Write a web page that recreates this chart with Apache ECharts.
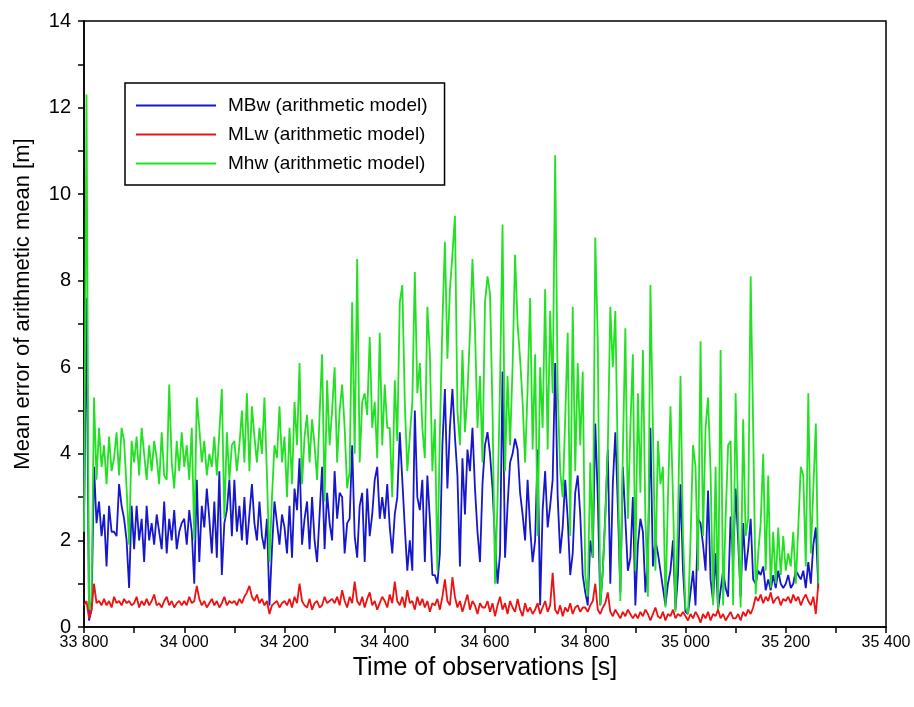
<!DOCTYPE html>
<html>
<head>
<meta charset="utf-8">
<script src="https://cdn.jsdelivr.net/npm/echarts@6/dist/echarts.min.js"></script>
<style>
html, body { margin: 0; padding: 0; background: #fff; }
#chart { width: 914px; height: 707px; }
</style>
</head>
<body>
<div id="chart"></div>
<script>
// observations every 5 s starting at 33 800 s
var startTime = 33800;
var step = 5;

var seriesNames = ['MBw (arithmetic model)', 'MLw (arithmetic model)', 'Mhw (arithmetic model)'];

var mbw = [
    2.2, 7.6, 0.15, 0.4, 3.7, 2.4, 2.9, 2.1, 2.6, 1.4, 2.8, 2.2, 2.2, 2.1, 3.3, 2.8, 2.5, 2.0, 0.9, 2.8,
    1.8, 2.8, 2.0, 2.5, 1.5, 2.8, 2.0, 2.4, 1.9, 2.6, 2.2, 1.8, 2.9, 1.7, 2.5, 2.0, 2.7, 1.8, 2.2, 2.4,
    2.5, 1.9, 2.7, 2.2, 1.0, 3.4, 1.5, 2.8, 2.3, 3.2, 2.5, 1.7, 2.9, 1.6, 3.6, 1.2, 2.4, 2.7, 3.4, 2.1,
    3.4, 2.2, 2.8, 2.0, 3.0, 1.9, 2.6, 3.3, 2.4, 2.0, 2.9, 2.1, 1.8, 2.5, 0.5, 1.8, 2.9, 2.4, 1.9, 2.6,
    2.3, 1.7, 2.8, 1.6, 3.2, 2.7, 3.9, 1.9, 2.5, 2.9, 1.8, 3.0, 2.0, 1.5, 2.6, 3.7, 1.8, 3.1, 2.4, 2.0,
    3.6, 2.5, 3.1, 3.0, 1.7, 2.4, 2.5, 4.2, 2.1, 1.6, 2.8, 3.1, 1.5, 3.2, 2.1, 2.6, 3.4, 3.7, 2.5, 3.0,
    2.5, 3.3, 2.3, 1.7, 2.6, 3.0, 4.5, 3.4, 2.3, 1.3, 2.0, 1.3, 5.0, 3.0, 2.7, 3.4, 1.5, 3.5, 2.5, 1.2,
    1.2, 1.0, 1.7, 4.2, 5.5, 3.2, 4.6, 5.5, 4.4, 3.5, 1.4, 3.9, 2.6, 4.1, 3.6, 4.6, 3.2, 2.2, 1.5, 3.3,
    4.2, 4.5, 4.0, 3.2, 2.0, 1.0, 1.7, 5.9, 1.6, 2.8, 3.8, 4.0, 4.35, 4.1, 3.1, 2.6, 2.0, 3.4, 2.3, 1.5,
    2.0, 4.1, 0.5, 2.7, 3.6, 2.3, 2.8, 3.4, 6.1, 3.0, 1.7, 2.3, 3.4, 2.5, 1.2, 1.7, 3.1, 3.5, 2.6, 1.2,
    0.8, 0.5, 2.0, 1.6, 4.7, 3.0, 0.5, 1.3, 2.6, 4.1, 1.0, 3.3, 4.5, 2.8, 0.8, 3.7, 2.5, 1.3, 1.6, 3.0,
    0.5, 1.9, 2.5, 2.2, 0.8, 1.6, 4.6, 1.4, 2.0, 1.7, 1.3, 0.9, 0.5, 1.0, 1.3, 2.0, 0.4, 1.2, 3.3, 1.3,
    0.35, 0.3, 0.8, 1.3, 0.5, 2.5, 2.4, 1.9, 1.3, 3.15, 1.1, 0.6, 1.7, 0.4, 0.85, 1.3, 0.9, 0.7, 2.55, 1.5,
    3.2, 2.0, 0.7, 2.4, 1.3, 1.8, 2.5, 1.1, 1.0, 1.3, 1.2, 1.4, 0.85, 1.1, 0.85, 1.2, 0.9, 1.3, 1.0, 0.9,
    1.0, 1.2, 0.9, 1.0, 1.3, 1.2, 1.1, 1.3, 0.9, 1.5, 1.0, 1.9, 2.3, 0.9
];

var mlw = [
    0.5, 0.6, 0.2, 0.4, 1.0, 0.55, 0.6, 0.5, 0.65, 0.5, 0.6, 0.45, 0.7, 0.55, 0.6, 0.5, 0.65, 0.55, 0.6, 0.5,
    0.55, 0.7, 0.45, 0.6, 0.5, 0.65, 0.5, 0.6, 0.75, 0.5, 0.55, 0.45, 0.6, 0.7, 0.5, 0.6, 0.45, 0.55, 0.6, 0.5,
    0.6, 0.5, 0.7, 0.55, 0.6, 0.95, 0.65, 0.5, 0.6, 0.45, 0.55, 0.65, 0.5, 0.6, 0.45, 0.55, 0.7, 0.5, 0.6, 0.55,
    0.6, 0.5, 0.65, 0.55, 0.7, 0.8, 0.95, 0.7, 0.6, 0.75, 0.55, 0.65, 0.5, 0.6, 0.3, 0.5, 0.55, 0.6, 0.45, 0.55,
    0.6, 0.5, 0.65, 0.45, 0.7, 0.55, 1.0, 0.6, 0.5, 0.45, 0.65, 0.4, 0.55, 0.6, 0.45, 0.5, 0.7, 0.55, 0.6, 0.65,
    0.55, 0.7, 0.5, 0.85, 0.6, 0.45, 0.7, 0.55, 1.05, 0.6, 0.5, 0.7, 0.45, 0.65, 0.8, 0.5, 0.6, 0.4, 0.55, 0.7,
    0.6, 0.45, 0.75, 0.55, 1.05, 0.6, 0.5, 0.7, 0.45, 0.85, 0.55, 0.6, 0.4, 0.7, 0.5, 0.65, 0.45, 0.6, 0.35, 0.55,
    0.5, 0.65, 0.4, 0.7, 1.1, 0.6, 0.5, 1.15, 0.7, 0.45, 0.6, 0.35, 0.55, 0.75, 0.4, 0.6, 0.5, 0.3, 0.55, 0.45,
    0.45, 0.6, 0.35, 0.55, 0.25, 0.5, 0.7, 0.4, 0.55, 0.3, 0.6, 0.45, 0.35, 0.65, 0.4, 0.25, 0.55, 0.35, 0.45, 0.3,
    0.4, 0.55, 0.3, 0.45, 0.6, 0.35, 0.5, 1.25, 0.4, 0.3, 0.5, 0.25, 0.45, 0.35, 0.55, 0.3, 0.45, 0.5, 0.35, 0.45,
    0.45, 0.35, 0.5, 0.6, 1.0, 0.4, 0.3, 0.45, 0.55, 0.8, 0.35, 0.25, 0.4, 0.3, 0.2, 0.35, 0.25, 0.4, 0.3, 0.2,
    0.3, 0.2, 0.35, 0.25, 0.4, 0.3, 0.15, 0.3, 0.45, 0.25, 0.2, 0.35, 0.15, 0.3, 0.25, 0.4, 0.2, 0.3, 0.25, 0.35,
    0.25, 0.15, 0.3, 0.2, 0.35, 0.25, 0.1, 0.3, 0.2, 0.35, 0.15, 0.3, 0.25, 0.4, 0.2, 0.3, 0.15, 0.25, 0.35, 0.2,
    0.2, 0.3, 0.15, 0.35, 0.25, 0.4, 0.3, 0.45, 0.7, 0.6, 0.75, 0.55, 0.7, 0.6, 0.8, 0.55, 0.65, 0.7, 0.5, 0.65,
    0.6, 0.7, 0.55, 0.75, 0.6, 0.7, 0.5, 0.65, 0.75, 0.6, 0.5, 0.7, 0.3, 1.0
];

var mhw = [
    2.2, 12.3, 0.4, 0.6, 5.3, 3.4, 4.6, 3.7, 4.2, 3.3, 4.4, 3.6, 3.9, 4.5, 3.5, 4.6, 4.3, 3.2, 1.9, 4.3,
    3.8, 4.4, 3.5, 4.6, 4.0, 3.4, 4.2, 3.6, 4.3, 3.9, 3.3, 4.5, 3.5, 3.4, 5.6, 3.8, 3.2, 4.3, 3.6, 4.5,
    3.7, 4.2, 3.4, 4.6, 2.0, 5.3, 4.6, 3.8, 4.3, 3.5, 4.0, 3.7, 4.4, 3.5, 4.5, 5.5, 2.5, 4.5, 3.4, 4.2,
    4.3, 3.6, 4.2, 5.0, 3.8, 5.4, 3.6, 5.1, 4.4, 3.8, 4.6, 4.0, 5.3, 3.5, 1.5, 3.0, 4.2, 3.9, 5.1, 3.8,
    4.4, 3.0, 4.6, 3.3, 5.2, 4.2, 6.1, 3.3, 4.4, 4.9, 3.8, 4.8, 4.2, 3.4, 4.9, 6.3, 2.9, 5.7, 4.2, 5.0,
    6.0, 3.8, 5.0, 5.6, 4.6, 3.2, 3.6, 7.5, 4.0, 8.5, 3.8, 5.2, 5.4, 4.9, 6.7, 4.6, 5.2, 3.9, 6.8, 4.2,
    5.6, 4.6, 4.6, 3.0, 5.7, 4.3, 7.5, 7.9, 5.2, 3.6, 4.4, 5.2, 8.2, 5.4, 6.1, 4.6, 3.9, 7.4, 6.3, 3.6,
    4.8, 1.3, 4.5, 7.0, 8.9, 6.2, 7.8, 8.6, 9.5, 5.0, 4.2, 6.4, 4.5, 5.4, 6.8, 8.5, 6.9, 4.6, 5.8, 3.8,
    7.5, 8.1, 7.7, 5.0, 1.0, 2.9, 5.6, 9.3, 3.6, 5.8, 4.2, 6.0, 8.6, 7.0, 6.2, 5.2, 3.8, 5.5, 7.6, 4.1,
    6.3, 2.1, 6.0, 4.6, 7.8, 4.1, 7.3, 5.4, 10.9, 5.5, 3.6, 3.0, 4.8, 6.8, 2.1, 7.4, 3.6, 6.1, 4.2, 5.9,
    1.2, 0.7, 3.8, 1.6, 9.0, 6.6, 0.5, 1.3, 2.5, 4.1, 7.4, 6.0, 7.3, 3.8, 0.6, 4.0, 6.9, 2.5, 4.6, 6.3,
    1.3, 5.4, 3.1, 6.4, 2.5, 0.7, 7.9, 4.6, 1.3, 4.3, 3.3, 3.7, 0.45, 3.0, 5.1, 3.0, 0.35, 2.5, 5.8, 2.1,
    0.45, 0.3, 2.0, 4.2, 3.7, 1.3, 6.6, 2.1, 4.6, 5.3, 3.6, 0.5, 3.7, 0.35, 6.4, 0.5, 2.5, 4.2, 4.3, 0.5,
    5.4, 2.5, 0.45, 4.8, 2.1, 2.5, 8.1, 4.6, 0.75, 1.7, 2.4, 4.0, 1.3, 3.5, 0.9, 2.2, 1.0, 2.3, 1.2, 2.1,
    1.3, 1.7, 1.4, 2.2, 1.0, 2.3, 3.7, 3.5, 1.4, 5.4, 1.7, 3.2, 4.7, 1.0
];

var xTicks = { min: 33800, max: 35400, interval: 200 };
var yTicks = { min: 0, max: 14, interval: 2 };

function pairs(values) {
    var out = [];
    for (var i = 0; i < values.length; i++) {
        out.push([startTime + i * step, values[i]]);
    }
    return out;
}

function spaced(v) {
    var s = String(v);
    return s.length > 3 ? s.slice(0, -3) + ' ' + s.slice(-3) : s;
}

var font = 'Liberation Sans, Arial, sans-serif';

var chart = echarts.init(document.getElementById('chart'));
chart.setOption({
    animation: false,
    backgroundColor: '#fff',
    grid: {
        left: 84,
        right: 28,
        top: 21,
        bottom: 80,
        outerBoundsMode: 'none',
        show: true,
        borderColor: '#000',
        borderWidth: 1.5
    },
    legend: {
        orient: 'vertical',
        left: 125,
        top: 83,
        padding: [13, 17, 12, 11],
        itemGap: 10,
        itemWidth: 80,
        itemHeight: 2,
        icon: 'rect',
        borderColor: '#000',
        borderWidth: 1.5,
        backgroundColor: '#fff',
        textStyle: { fontFamily: font, fontSize: 19, color: '#000', lineHeight: 18, padding: [0, 0, 0, 7] },
        data: seriesNames
    },
    xAxis: {
        type: 'value',
        min: xTicks.min,
        max: xTicks.max,
        interval: xTicks.interval,
        name: 'Time of observations [s]',
        nameLocation: 'middle',
        nameGap: 28,
        nameTextStyle: { fontFamily: font, fontSize: 25, color: '#000' },
        axisLine: { lineStyle: { color: '#000', width: 1.5 } },
        axisTick: { length: 6, lineStyle: { color: '#000', width: 1.5 } },
        minorTick: { show: true, splitNumber: 2, length: 6, lineStyle: { color: '#000', width: 1.5 } },
        splitLine: { show: false },
        axisLabel: { fontFamily: font, fontSize: 16, color: '#000', margin: 8, formatter: spaced }
    },
    yAxis: {
        type: 'value',
        min: yTicks.min,
        max: yTicks.max,
        interval: yTicks.interval,
        name: 'Mean error of arithmetic mean [m]',
        nameLocation: 'middle',
        nameGap: 50,
        nameTextStyle: { fontFamily: font, fontSize: 22, color: '#000', padding: [0, 0, 0, 40] },
        axisLine: { lineStyle: { color: '#000', width: 1.5 } },
        axisTick: { length: 6, lineStyle: { color: '#000', width: 1.5 } },
        minorTick: { show: true, splitNumber: 2, length: 6, lineStyle: { color: '#000', width: 1.5 } },
        splitLine: { show: false },
        axisLabel: { fontFamily: font, fontSize: 20, color: '#000', margin: 13 }
    },
    series: [
        {
            name: seriesNames[0],
            type: 'line',
            z: 2,
            showSymbol: false,
            data: pairs(mbw),
            lineStyle: { color: '#1616cc', width: 1.8 },
            itemStyle: { color: '#1616cc' }
        },
        {
            name: seriesNames[1],
            type: 'line',
            z: 4,
            showSymbol: false,
            data: pairs(mlw),
            lineStyle: { color: '#ee1111', width: 1.8 },
            itemStyle: { color: '#ee1111' }
        },
        {
            name: seriesNames[2],
            type: 'line',
            z: 3,
            showSymbol: false,
            data: pairs(mhw),
            lineStyle: { color: '#22e022', width: 1.8 },
            itemStyle: { color: '#22e022' }
        }
    ]
});
</script>
</body>
</html>
